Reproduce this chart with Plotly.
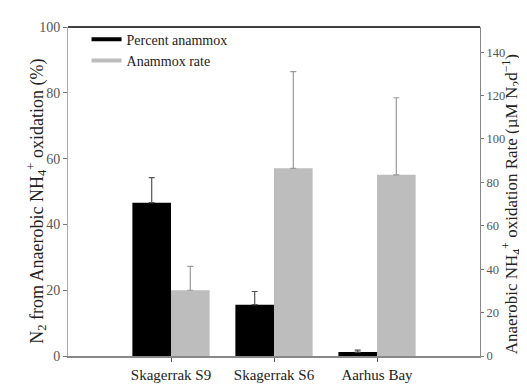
import plotly.graph_objects as go

# Data
sites = ["Skagerrak S9", "Skagerrak S6", "Aarhus Bay"]
percent_anammox = [46.6, 15.6, 1.2]
percent_err = [7.6, 4.0, 0.6]
anammox_rate = [30.3, 86.5, 83.5]
rate_err = [11.0, 44.5, 35.5]

black = "#000000"
grey = "#bdbdbd"
font = "Liberation Serif"

fig = go.Figure()

fig.add_trace(go.Bar(x=sites, y=percent_anammox, marker_color=black, marker_line_width=0,
                     offsetgroup="a", yaxis="y", showlegend=False,
                     error_y=dict(type="data", symmetric=False, array=percent_err,
                                  arrayminus=[0, 0, 0], color="#555555", thickness=1.2, width=3)))
fig.add_trace(go.Bar(x=sites, y=anammox_rate, marker_color=grey, marker_line_width=0,
                     offsetgroup="b", yaxis="y2", showlegend=False,
                     error_y=dict(type="data", symmetric=False, array=rate_err,
                                  arrayminus=[0, 0, 0], color="#9a9a9a", thickness=1.2, width=3)))

# legend entries drawn as thick lines
fig.add_trace(go.Scatter(x=[None], y=[None], mode="lines", name="Percent anammox",
                         line=dict(color=black, width=4)))
fig.add_trace(go.Scatter(x=[None], y=[None], mode="lines", name="Anammox rate",
                         line=dict(color=grey, width=4)))

fig.update_layout(
    width=527, height=387,
    margin=dict(l=60, r=55, t=17, b=29),
    paper_bgcolor="white", plot_bgcolor="white",
    font=dict(family=font, size=15, color="#333333"),
    barmode="group", bargap=0.25, bargroupgap=0,
    showlegend=True,
    legend=dict(x=0.045, y=1.01, xanchor="left", yanchor="top", bgcolor="rgba(0,0,0,0)",
                font=dict(family=font, size=14, color="#222222"), tracegroupgap=0,
                itemwidth=30),
    xaxis=dict(range=[-1, 3], showline=True, linecolor="#888888", linewidth=1.5,
               ticks="outside", ticklen=4, tickcolor="#555555", showgrid=False,
               tickfont=dict(size=15, color="#222222")),
    yaxis=dict(range=[0, 100], tickvals=[0, 20, 40, 60, 80, 100], showline=True,
               linecolor="#aaaaaa", linewidth=1, ticks="outside", ticklen=4,
               tickcolor="#777777", showgrid=False, zeroline=False,
               tickfont=dict(size=14, color="#555555")),
    yaxis2=dict(range=[0, 151.6], tickvals=[0, 20, 40, 60, 80, 100, 120, 140],
                overlaying="y", side="right", showline=True, linecolor="#888888",
                linewidth=1, ticks="outside", ticklen=3, tickcolor="#777777",
                showgrid=False, zeroline=False,
                tickfont=dict(size=12.5, color="#555555")),
    shapes=[dict(type="line", xref="paper", yref="paper", x0=0, x1=1, y0=1, y1=1,
                 line=dict(color="black", width=1.5))],
    annotations=[
        dict(text="N<sub>2</sub> from Anaerobic NH<sub>4</sub><sup>+</sup> oxidation (%)",
             xref="paper", yref="paper", x=-0.112, y=0.47, textangle=-90,
             showarrow=False, font=dict(size=18, color="#222222")),
        dict(text="Anaerobic NH<sub>4</sub><sup>+</sup> oxidation Rate (µM N<sub>2</sub>d<sup>−1</sup>)",
             xref="paper", yref="paper", x=1.112, y=0.46, textangle=-90,
             showarrow=False, font=dict(size=17, color="#222222")),
    ],
)

fig.write_html("out.html")
